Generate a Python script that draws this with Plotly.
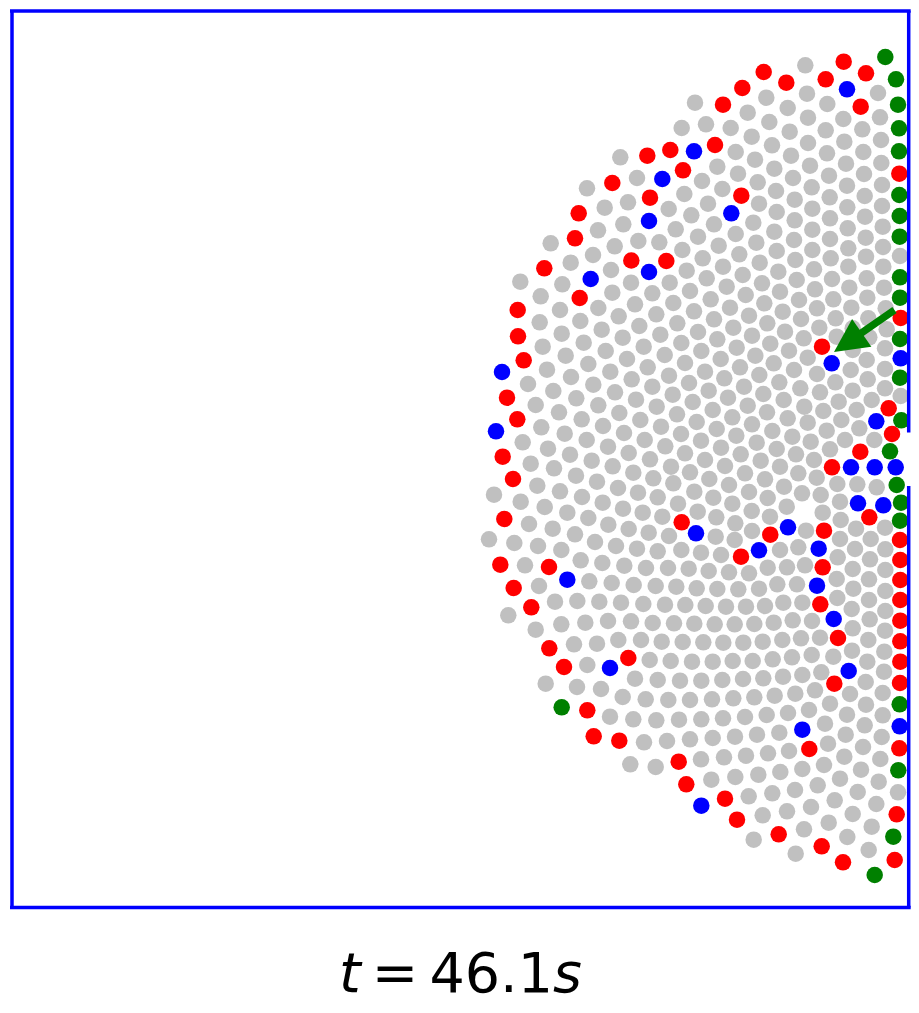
import plotly.graph_objects as go

gray_points = [
(695,102.7),(681.7,128),(620.3,157.3),(637,178),(587,188.3),(604.7,207.7),(628,202.3),(684.3,194),(668.7,209),(691.3,215.3),
(623.3,224.3),(598,230.3),(675.7,229.3),(638.3,241),(659.3,242.3),(550.7,243.3),(614.7,246.3),(682.3,250),(593,255),
(805.3,65.3),(878,93),(807,93.7),(766.3,97.7),(827.3,104),(747.7,112.7),(787.7,108),(880,117.3),(843.3,119),(808,117.7),
(706,124.3),(769.3,122),(730.7,128),(862.3,129.3),(825.7,130.3),(789.7,131.7),(881,140),(844.3,141.7),(751.7,136.7),(808,143),
(772,145.3),(735.7,152),(863.3,152),(827,153.3),(791,155.7),(881.3,163),(846,163.7),(755,159.7),(810,165.7),(774.3,168.7),
(717.3,166.7),(864,174),(738,173.7),(829,175.7),(793,178),(702,181),(882,185),(847,185.7),(757.7,182.3),(811.7,187.3),
(722.3,189),(776,191),(864.7,196),(829.7,197.3),(794.7,199.7),(708,203.7),(759,203.7),(882,206),(847.3,207.3),(812.3,208.7),
(776.7,212),(865,216.7),(830,218.3),(794.7,220.3),(714,224.3),(753.3,222.7),(882.7,226.7),(847.7,228.3),(812.3,229.7),(774.3,231.7),
(698,236.7),(735.7,234),(865.7,237.7),(830,239),(794,240),(756.3,242.7),(883,247),(848.3,248.3),(718.7,245.7),(812.3,250),
(776.7,251),(900,256),(739.3,254.3),
(570.7,262.7),(611,270),(520.3,281.7),(562.3,284.3),(631,282.7),(686.7,270.7),(669.7,282.7),(652.3,293.3),(612.3,292.7),(690,291),
(540.7,296.3),(635,304.3),(673.3,303),(598.3,308),(560,310),(694,311.3),(656.3,314.3),(618.7,316.3),(677.3,323.3),(539.7,322.3),
(580.3,321),(639.3,326),(601.7,329.7),(561.7,333.7),(660.3,334.7),(622.7,337.7),(681.3,343),(583.7,342.7),(542.7,346.7),(643.7,346.7),
(664.7,355),(605.7,351),(565.7,355.7),(627,359),(685,363),(588.3,364),(647.7,367.3),(610.3,371.7),(547,369.7),(669,375.7),
(631.7,379.3),(571,377),(689,383),(652.3,386.7),(528,384),(593.3,384.7),(615,392.3),(672.7,394.7),(553.3,391),(576.3,398.3),
(636,399.7),(692.7,402),(656.7,406.7),(598.3,405.3),(535.7,405),(619.3,413),(559,412.3),(677,414.3),(640.3,420),(581.7,419.3),
(661,426.7),(541.3,427.3),(603,426),(681,434),(624,433),(564.7,433.7),(522.7,442.3),(586.7,440),(644.7,440),(665.3,446.3),
(608,446.7),(548,448.7),(685,453.3),(628.7,453),(570,454.7),(650,459.3),(591.7,460.7),(530.7,463.7),(671,466.7),(612.7,466.3),(554,468.3),
(702.7,258.3),(723,266.7),(759.7,262.7),(795.3,260),(830.7,258.3),(848.3,266.7),(866,256.7),(883.3,266.7),(706.7,278.3),(742.7,275),
(778.3,271.7),(814,269.3),(726.7,286.7),(762,283.3),(796.7,280),(832,279),(849.3,287.7),(866.7,278.3),(884,287.7),(710.7,299.3),
(745.7,295),(780,291.7),(815,289.3),(833.3,299.3),(867.3,297.7),(851.3,307.7),(730,307.7),(764.3,303.3),(799,300),(885.7,308.3),
(714,319.3),(749,315.7),(782.7,311.7),(817,308.3),(835.7,318.3),(868.3,318.3),(852.7,328.3),(698,332),(733.3,327.7),(767.3,323.3),
(801,319),(886.7,329.3),(819.3,327.7),(717.3,339.3),(752,335.7),(785,331.7),(836.7,336.7),(869.3,337.3),(701.3,351),(736.7,347.7),
(770.3,343.7),(803.7,338.3),(885,348.3),(852.7,350),(720.7,359),(755.3,355.7),(789,350.7),(866.7,360),(705,371.7),(740,367.3),
(773.7,363.3),(807.7,357.7),(850.7,370),(885,369),(724.3,378.3),(759.3,375),(794,370),(867.7,379.3),(817,374),(708.7,390.7),
(744,386.7),(779.3,382.3),(835.3,382.3),(885,388.3),(852.7,390.7),(728,397.7),(763.3,394),(800.3,388.3),(820,392.3),(900.7,396),
(871.7,400),(712.7,410),(747.7,405.7),(783.7,400),(838.7,401.7),(804.3,406.7),(856.7,410),(732.3,417.3),(767,412.3),(823.3,411),
(696.7,422),(787.7,418.3),(841.3,420),(716.7,429),(752,424.3),(807.7,422.7),(859.3,428.3),(874.3,440),(772.3,431),(736.3,435.7),
(826.7,430.7),(792.3,436.7),(845,440),(701,440.7),(756.7,442.7),(721,447.7),(810.7,441.7),(776.7,449),(830,449.3),(740.7,454.3),
(796,454.3),(705,460),(760.7,460.7),(814,460),(780,466.7),(725,466),
(537.3,485.7),(494,494.7),(560,491.3),(582,497),(576,475.7),(597,481.7),(618,488),(633.3,472.7),(638,492.7),(653.3,478.3),
(673.3,483.3),(690,472.3),(694.3,491.7),(657.7,497.3),(520.7,501.7),(544.7,507),(602.7,502.7),(623,508.7),(642.7,512.7),(662.3,516.7),(678,503.7),
(567.3,512.7),(588.3,518),(529,524),(552.7,528.7),(608.3,524.7),(628.7,529),(648.7,532.7),(669,536),(575,534.3),(489,539.3),
(595,542),(514.3,543),(616,546),(637,548.7),(657.7,551.3),(681.3,550),(538,546),(561.3,550),(580.7,560.3),(602.3,563),
(624.3,565.7),(646,568),(668,568),(688.7,568.7),(525,565.3),(539,586),(589.3,581.3),(611.7,583),(633.7,585),(655.7,586),
(676.3,586.7),(555,601.7),(577.3,601),(599.3,601.7),(621,602.7),(643.3,604),(665,604.7),(685.3,605),(508.3,615.3),(535.7,629.7),
(561.3,624.3),(585.3,622.7),(608,621),(631,621.3),(652.7,623),(674,623.3),(694.3,623.7),(574,644.3),(597,643.7),(618.3,640),
(641,640),(661.7,641.7),(682.7,642),(649.7,660),(670.7,661),(692,661.7),(587.3,665),
(545.7,683.7),(577,687),(601,689),(635,678.7),(657.7,680),(680,680.7),(622.7,697),(645.7,699.3),(668.3,700),(690,700),
(610,716.7),(633.3,719.3),(656.3,720.3),(679,719.7),(644,742.3),(667,741),(690,739.3),(630.3,764.3),(655.7,767),
(745,473.3),(765,479.3),(798.3,473.3),(816.7,477.7),(709.3,479),(729,485),(784,486.7),(802,493.3),(820.7,495),(837.3,484),
(857.3,484.3),(876.7,487.3),(749,492),(767.7,498),(713.3,497.7),(732.3,503.7),(786.7,506.7),(840,501.7),(822.7,512.7),(751.7,511),
(770,516.7),(697.7,511.7),(716.3,517.3),(735.3,523.3),(840.7,520),(856,528.7),(885,527.7),(752,531),(806,530.7),(840,539),
(870.7,539),(715.7,536.7),(734.7,540),(701,552.7),(721,555),(780,550),(798.3,547.3),(855,549),(885.3,549.3),(837.7,557.3),
(870,559.3),(767.7,567.7),(787,567.3),(805,565.3),(852.7,569),(885.3,570),(729,572.3),(708.7,571),(749,573.3),(836.7,579),
(869,579.3),(777.3,584.3),(797,584.3),(717.3,589),(738.3,589.3),(759,588.7),(696.7,588.3),(853.3,588.7),(885.3,591),(837.3,598),
(869,600),(783.3,602.7),(802.3,602.7),(705.7,606),(726,606.7),(746,606.7),(765,606),(851.7,609),(885.3,611),(869.7,619.3),
(714.7,624.3),(734.7,624.3),(754.3,624),(773.7,622.7),(792.7,620.3),(812,621),(852.7,628.3),(885,630.7),(868.3,640),(703.3,642.3),
(723.3,642.7),(743.3,642.7),(762.7,641.7),(782.3,640),(801,638.3),(820,637.7),(852,650.7),(884.3,651.7),(712.7,661.7),(732.7,661),
(752.7,661),(772.7,659.3),(792,657.3),(811.7,655),(833.3,656.7),(867.3,661.7),(884,671.7),
(701.3,680.7),(722.3,680),(743,679),(763.3,678.3),(783,676.7),(802.3,675),(821.3,672.3),(865.7,682),(712,699.3),(733.3,698.3),
(754.3,697.3),(774.7,695.7),(795.3,693.7),(815,690.3),(850,694),(882.7,693),(830,703.7),(866,704.7),(701.3,719.3),(723,718.3),
(745,717),(766.7,715),(788,713),(809,710),(847,714.7),(882.7,715.3),(825,723.7),(864.7,725.3),(712.7,738),(735,736.7),
(757,734.7),(779.3,732.7),(845.7,734.7),(881.7,737),(828,743.7),(863,747),(701,759.3),(724,757.3),(746,755.7),(768,753.3),
(789,751),(844.3,756.7),(880.3,759),(824,765),(861,769.7),(711.3,779.7),(735.3,777),(758.3,774.7),(780.3,772),(802.3,769),
(840,778.7),(878.7,781.7),(817.7,785.3),(857.7,792),(898,792.3),(748.7,796.3),(772.3,793.3),(795,790),(834.7,800.3),(876.3,804),
(811,807),(787,811.3),(762.7,815.3),(852.7,814),(828.7,822.7),(871.7,826.7),(804,829.3),(847.3,837),(753.7,839.7),(868.7,850),
(795.7,853.7),
]

red_points = [
(647.3,155.7),(670.3,150),(683,170.3),(612.3,183),(650,197.7),(578.7,213.3),(575,238.3),(631.3,260.5),(666.3,261),
(843.7,61.7),(866,73.3),(763.7,72),(786.3,82.7),(825.7,79.3),(742.3,88),(860.7,106.7),(723,104.7),(715,145),(899.3,173.7),(741.3,195.7),
(544.3,268.3),(579.7,298),(517.7,310),(518,336.3),(523.7,360.3),(507,397.7),(517.3,419.3),(502.7,456.7),
(900.7,318),(822,346.7),(888.7,408.3),(892,434),(860.3,451.7),(832,467.3),
(513,479),(504.3,519),(681.7,522.3),(500.3,564.7),(549,567),(513.7,588),(531.3,607.3),(549.3,648.3),(628.3,658),(564,667),
(587.3,710.3),(593.7,736.3),(619.3,740.7),(678.7,761.7),(686.3,784.3),
(869.3,517.3),(824,530.7),(770.3,534.7),(900,540),(741,556.7),(900.3,560),(822.7,567.3),(900.3,580),(900.3,600),(820.3,604.3),
(900.3,620.7),(838,638),(900.3,641.3),(900.3,661.7),(834.3,683.7),(900,683),
(725,798.7),(737,819.7),(778.7,834.3),(821.7,846.3),(843,862.3),(894.7,860),(896.7,814.3),(899.3,748.3),(809.3,749),
]

blue_points = [
(694,151.3),(662.3,179),(649,221),(847,89.3),(731.3,213.3),
(590.7,279),(502,372),(496,431.3),(649,272),
(900.7,358.3),(831.7,363.3),(876.3,421.3),(851,467.3),(874.7,467.3),(895.7,467.3),
(696,533.3),(567.3,579.7),(610,668),(701.3,805.7),
(858,503.3),(883.3,505.3),(788,527.3),(818.7,548.7),(759,550.3),(817,585.7),(833.7,619),(848.7,671),
(899.7,726.3),(802.3,729.7),
]

green_points = [
(885.3,57),(896,79.3),(898,104.7),(899,128.3),(899,151.3),(899.3,195),(899.7,216),(899.7,236.7),
(900,277.3),(900,297.7),(900,339),(900,377.7),(901.3,420.3),(890,451.3),
(896.7,485),(901,502.7),(900,520.7),(899.7,704.3),(561.7,707.3),(898.3,770.3),(893.3,836.7),(874.7,875),
]

frame_left, frame_right, frame_top, frame_bottom = 12, 908.7, 11, 907.5
gap_top, gap_bottom = 432.5, 486
arrow_tail = (896, 309)
arrow_tip = (834, 352)
title_text = "<i>t</i>\u2009=\u200946.1<i>s</i>"

fig = go.Figure()
for pts, col in [(gray_points, "#c0c0c0"), (red_points, "#ff0000"),
                 (blue_points, "#0000ff"), (green_points, "#008000")]:
    fig.add_trace(go.Scatter(
        x=[p[0] for p in pts], y=[p[1] for p in pts], mode="markers",
        marker=dict(color=col, size=16.5, line=dict(width=0)),
        hoverinfo="skip", showlegend=False, cliponaxis=False))

for x0, y0, x1, y1 in [
    (frame_left, frame_top, frame_left, frame_bottom),
    (frame_left - 2, frame_top, frame_right + 2, frame_top),
    (frame_left - 2, frame_bottom, frame_right + 2, frame_bottom),
    (frame_right, frame_top, frame_right, gap_top),
    (frame_right, gap_bottom, frame_right, frame_bottom),
]:
    fig.add_shape(type="line", xref="x", yref="y", x0=x0, y0=y0, x1=x1, y1=y1,
                  line=dict(color="#0000ff", width=3.5), layer="above")

fig.add_annotation(x=arrow_tip[0], y=arrow_tip[1], ax=arrow_tail[0], ay=arrow_tail[1],
                   xref="x", yref="y", axref="x", ayref="y", text="", showarrow=True,
                   arrowhead=2, arrowsize=0.9, arrowwidth=7.5, arrowcolor="#008000",
                   standoff=0, startstandoff=0)
fig.add_annotation(x=460.5, y=972.5, xref="x", yref="y", text=title_text, showarrow=False,
                   xanchor="center", yanchor="middle",
                   font=dict(family="DejaVu Sans", size=55.5, color="#000000"))

fig.update_layout(
    width=903, height=997, margin=dict(l=0, r=0, t=0, b=0, pad=0),
    paper_bgcolor="#ffffff", plot_bgcolor="#ffffff", showlegend=False,
    xaxis=dict(range=[8, 911], visible=False, fixedrange=True),
    yaxis=dict(range=[1005, 8], visible=False, fixedrange=True),
)
fig.write_html("out.html", config=dict(displayModeBar=False))
